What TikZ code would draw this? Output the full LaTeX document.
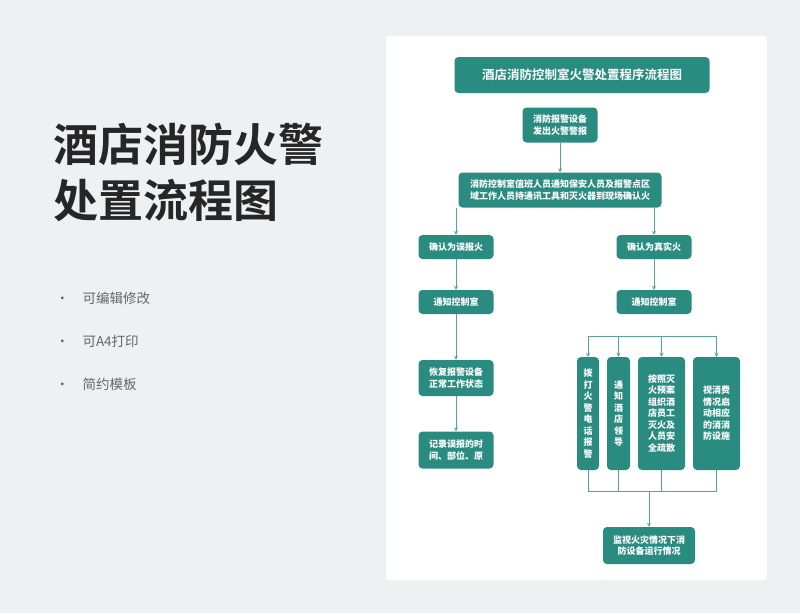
\documentclass[tikz,border=0pt]{standalone}
\usepackage{fontspec}
\setmainfont{Noto Sans CJK SC}
\newfontfamily\cjkbold{Noto Sans CJK SC Bold}
\usetikzlibrary{positioning}
\definecolor{teal1}{HTML}{2A8C80}
\definecolor{bg}{HTML}{EEF0F1}
\tikzset{
  box/.style={draw=none,fill=teal1,rounded corners=4pt,text=white,font=\fontsize{9}{11.5}\selectfont\bfseries,align=center,inner sep=2pt},
  line/.style={draw=teal1!80,line width=0.8pt},
  arr/.style={line,->,>=stealth}
}
\begin{document}
\begin{tikzpicture}[x=1pt,y=-1pt]
\useasboundingbox (0,0) rectangle (800,613);
\fill[bg] (0,0) rectangle (800,613);
\fill[white,rounded corners=3pt] (386,36) rectangle (767,580);

% left side
\node[anchor=west,align=left,font=\fontsize{45}{56}\selectfont\cjkbold,text=black!85] (head) at (50,172) {酒店消防火警\\处置流程图};
\foreach \t/\y in {可编辑修改/298,可A4打印/341,简约模板/384}
  \node[anchor=west,font=\fontsize{13.5}{16}\selectfont,text=black!60] at (52,\y) {\textbullet\quad \t};

% boxes
\node[box,minimum width=255,minimum height=36,font=\fontsize{12.5}{14}\selectfont\cjkbold] (title) at (582,75) {酒店消防控制室火警处置程序流程图};
\node[box,minimum width=75,minimum height=35] (alarm) at (560,125) {消防报警设备\\发出火警警报};
\node[box,minimum width=203,minimum height=35] (check) at (560,190) {消防控制室值班人员通知保安人员及报警点区\\域工作人员持通讯工具和灭火器到现场确认火};
\node[box,minimum width=75,minimum height=24] (false) at (456,247) {确认为误报火};
\node[box,minimum width=75,minimum height=24] (true) at (654,247) {确认为真实火};
\node[box,minimum width=75,minimum height=24] (lnote) at (456,302) {通知控制室};
\node[box,minimum width=75,minimum height=24] (rnote) at (654,302) {通知控制室};
\node[box,minimum width=75,minimum height=36] (reset) at (456,378) {恢复报警设备\\正常工作状态};
\node[box,minimum width=75,minimum height=37] (record) at (456,450) {记录误报的时\\间、部位、原};
\node[box,minimum width=22,minimum height=113,inner sep=1pt] (call) at (588,413.5) {拨\\打\\火\\警\\电\\话\\报\\警};
\node[box,minimum width=23,minimum height=113,inner sep=1pt] (lead) at (618.5,413.5) {通\\知\\酒\\店\\领\\导};
\node[box,minimum width=47,minimum height=113] (evac) at (661.5,413.5) {按照灭\\火预案\\组织酒\\店员工\\灭火及\\人员安\\全疏散};
\node[box,minimum width=47,minimum height=113] (equip) at (716.5,413.5) {视消费\\情况启\\动相应\\的消消\\防设施};
\node[box,minimum width=92,minimum height=37] (watch) at (649,545.5) {监视火灾情况下消\\防设备运行情况};

% connectors
\draw[arr] (alarm) -- (check);
\draw[arr] (check.south -| false) -- (false);
\draw[arr] (check.south -| true) -- (true);
\draw[arr] (false) -- (lnote);
\draw[arr] (true) -- (rnote);
\draw[arr] (lnote) -- (reset);
\draw[arr] (reset) -- (record);
\coordinate (bus) at (654,336);
\draw[line] (bus -| call) -- (bus -| equip);
\foreach \n in {call,lead,evac,equip}
  \draw[arr] (bus -| \n) -- (\n.north);
\coordinate (join) at (649,491);
\draw[line] (join -| call) -- (join -| equip);
\foreach \n in {call,lead,evac,equip}
  \draw[line] (\n.south) -- (join -| \n);
\draw[arr] (join) -- (watch);
\end{tikzpicture}
\end{document}
